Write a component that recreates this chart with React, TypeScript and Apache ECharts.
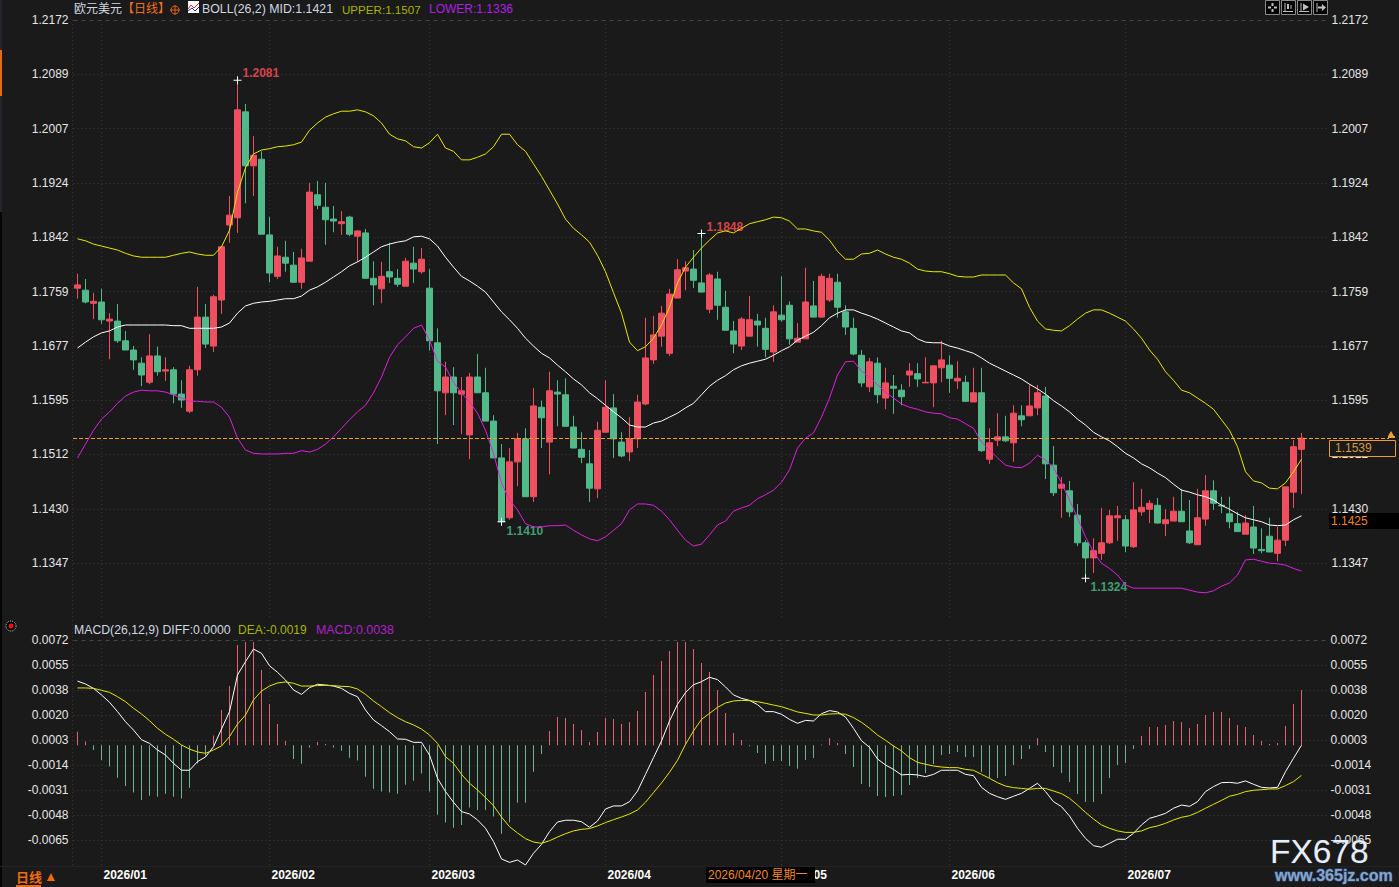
import React, { useEffect, useRef } from "react";
import * as echarts from "echarts";

const FONT = '"Liberation Sans", "Noto Sans CJK SC", sans-serif';
const BG = "#1a1a1a";
const UP = "#ef4f5f";
const DOWN = "#51b98a";

const priceLabels = ["1.2172", "1.2089", "1.2007", "1.1924", "1.1842", "1.1759", "1.1677", "1.1595", "1.1512", "1.1430", "1.1347"];
const priceTicks = [1.21726, 1.20901, 1.20075, 1.1925, 1.18424, 1.17599, 1.16774, 1.15948, 1.15123, 1.14297, 1.13472];
const macdLabels = ["0.0072", "0.0055", "0.0038", "0.0020", "0.0003", "-0.0014", "-0.0031", "-0.0048", "-0.0065"];
const macdTicks = [0.0072, 0.00549, 0.00378, 0.00207, 0.00036, -0.00135, -0.00306, -0.00477, -0.00648];
const holidays = ["2026/01/01"];
const extremes = [
  { index: 20, value: 1.2081, high: true },
  { index: 78, value: 1.1848, high: true },
  { index: 53, value: 1.141, high: false },
  { index: 126, value: 1.1324, high: false },
];

// [open, close, low, high]
const candles = [
  [1.1765,1.1770,1.1749,1.1787],[1.1762,1.1744,1.1742,1.1779],[1.1742,1.1745,1.1718,1.1758],[1.1744,1.1717,1.1711,1.1764],
  [1.1715,1.1718,1.1657,1.1727],[1.1715,1.1685,1.1682,1.1741],[1.1685,1.1671,1.1671,1.1700],[1.1671,1.1656,1.1641,1.1677],
  [1.1651,1.1633,1.1616,1.1660],[1.1622,1.1662,1.1619,1.1695],[1.1662,1.1638,1.1632,1.1676],[1.1639,1.1641,1.1624,1.1660],
  [1.1641,1.1604,1.1590,1.1645],[1.1604,1.1595,1.1583,1.1625],[1.1578,1.1641,1.1575,1.1647],[1.1641,1.1721,1.1632,1.1767],
  [1.1721,1.1680,1.1674,1.1741],[1.1677,1.1752,1.1668,1.1755],[1.1747,1.1828,1.1726,1.1829],[1.1861,1.1876,1.1834,1.1905],
  [1.1872,1.2036,1.1849,1.2081],[1.2033,1.1951,1.1894,1.2045],[1.1951,1.1967,1.1905,1.1996],[1.1961,1.1847,1.1847,1.1973],
  [1.1846,1.1788,1.1774,1.1873],[1.1783,1.1814,1.1779,1.1828],[1.1812,1.1803,1.1790,1.1837],[1.1800,1.1774,1.1773,1.1820],
  [1.1774,1.1811,1.1764,1.1825],[1.1806,1.1911,1.1806,1.1925],[1.1907,1.1891,1.1885,1.1928],[1.1888,1.1869,1.1831,1.1925],
  [1.1870,1.1867,1.1850,1.1890],[1.1863,1.1866,1.1846,1.1882],[1.1873,1.1847,1.1844,1.1875],[1.1844,1.1852,1.1805,1.1853],
  [1.1849,1.1780,1.1780,1.1855],[1.1780,1.1770,1.1739,1.1806],[1.1764,1.1783,1.1742,1.1805],[1.1790,1.1782,1.1773,1.1834],
  [1.1780,1.1771,1.1767,1.1794],[1.1768,1.1806,1.1768,1.1811],[1.1803,1.1794,1.1773,1.1828],[1.1790,1.1809,1.1787,1.1826],
  [1.1765,1.1685,1.1670,1.1794],[1.1682,1.1609,1.1528,1.1704],[1.1606,1.1630,1.1572,1.1653],[1.1630,1.1606,1.1557,1.1645],
  [1.1604,1.1609,1.1543,1.1630],[1.1542,1.1630,1.1505,1.1636],[1.1630,1.1606,1.1606,1.1665],[1.1606,1.1563,1.1563,1.1644],
  [1.1563,1.1507,1.1507,1.1572],[1.1507,1.1410,1.1410,1.1528],[1.1416,1.1501,1.1413,1.1522],[1.1501,1.1536,1.1464,1.1545],
  [1.1536,1.1448,1.1448,1.1552],[1.1448,1.1586,1.1440,1.1613],[1.1584,1.1568,1.1522,1.1594],[1.1531,1.1609,1.1482,1.1638],
  [1.1607,1.1604,1.1555,1.1625],[1.1603,1.1555,1.1555,1.1628],[1.1554,1.1522,1.1522,1.1571],[1.1520,1.1508,1.1499,1.1546],
  [1.1498,1.1461,1.1440,1.1519],[1.1460,1.1549,1.1446,1.1562],[1.1546,1.1584,1.1546,1.1625],[1.1583,1.1536,1.1507,1.1604],
  [1.1531,1.1510,1.1508,1.1546],[1.1516,1.1536,1.1502,1.1569],[1.1536,1.1592,1.1522,1.1603],[1.1589,1.1659,1.1587,1.1720],
  [1.1656,1.1694,1.1650,1.1723],[1.1692,1.1727,1.1676,1.1738],[1.1666,1.1756,1.1662,1.1764],[1.1750,1.1793,1.1750,1.1809],
  [1.1791,1.1796,1.1762,1.1806],[1.1794,1.1777,1.1765,1.1823],[1.1773,1.1759,1.1759,1.1848],[1.1733,1.1785,1.1727,1.1788],
  [1.1779,1.1739,1.1717,1.1790],[1.1736,1.1701,1.1701,1.1761],[1.1700,1.1680,1.1666,1.1715],[1.1677,1.1718,1.1671,1.1721],
  [1.1692,1.1717,1.1692,1.1753],[1.1715,1.1709,1.1676,1.1726],[1.1704,1.1672,1.1660,1.1720],[1.1668,1.1729,1.1653,1.1739],
  [1.1724,1.1717,1.1714,1.1783],[1.1739,1.1688,1.1679,1.1745],[1.1683,1.1689,1.1683,1.1712],[1.1688,1.1744,1.1688,1.1796],
  [1.1738,1.1721,1.1721,1.1776],[1.1721,1.1783,1.1720,1.1787],[1.1747,1.1780,1.1744,1.1787],[1.1774,1.1736,1.1720,1.1787],
  [1.1729,1.1706,1.1694,1.1739],[1.1704,1.1665,1.1663,1.1720],[1.1663,1.1621,1.1615,1.1671],[1.1615,1.1653,1.1607,1.1659],
  [1.1651,1.1603,1.1590,1.1660],[1.1598,1.1621,1.1581,1.1644],[1.1616,1.1613,1.1574,1.1633],[1.1610,1.1600,1.1587,1.1619],
  [1.1633,1.1639,1.1615,1.1651],[1.1635,1.1627,1.1615,1.1651],[1.1621,1.1622,1.1621,1.1660],[1.1621,1.1647,1.1584,1.1647],
  [1.1644,1.1656,1.1622,1.1685],[1.1648,1.1628,1.1606,1.1663],[1.1624,1.1628,1.1612,1.1654],[1.1622,1.1593,1.1593,1.1632],
  [1.1592,1.1606,1.1592,1.1644],[1.1606,1.1518,1.1516,1.1644],[1.1505,1.1530,1.1498,1.1552],[1.1534,1.1539,1.1525,1.1575],
  [1.1539,1.1533,1.1531,1.1571],[1.1530,1.1575,1.1501,1.1587],[1.1571,1.1565,1.1555,1.1587],[1.1571,1.1586,1.1571,1.1619],
  [1.1583,1.1606,1.1572,1.1618],[1.1601,1.1498,1.1475,1.1615],[1.1496,1.1454,1.1449,1.1525],[1.1461,1.1467,1.1416,1.1478],
  [1.1457,1.1425,1.1417,1.1472],[1.1420,1.1378,1.1373,1.1437],[1.1378,1.1355,1.1324,1.1382],[1.1355,1.1366,1.1332,1.1385],
  [1.1362,1.1378,1.1352,1.1431],[1.1378,1.1419,1.1376,1.1428],[1.1416,1.1419,1.1381,1.1434],[1.1413,1.1373,1.1364,1.1420],
  [1.1372,1.1428,1.1370,1.1470],[1.1425,1.1432,1.1419,1.1460],[1.1429,1.1438,1.1408,1.1443],[1.1435,1.1408,1.1407,1.1446],
  [1.1407,1.1413,1.1388,1.1429],[1.1411,1.1426,1.1411,1.1448],[1.1426,1.1410,1.1410,1.1460],[1.1396,1.1378,1.1376,1.1443],
  [1.1375,1.1416,1.1375,1.1460],[1.1414,1.1457,1.1404,1.1481],[1.1457,1.1438,1.1428,1.1473],[1.1435,1.1434,1.1423,1.1448],
  [1.1422,1.1410,1.1400,1.1448],[1.1407,1.1395,1.1395,1.1425],[1.1391,1.1408,1.1391,1.1420],[1.1402,1.1370,1.1361,1.1434],
  [1.1368,1.1366,1.1362,1.1400],[1.1388,1.1364,1.1364,1.1416],[1.1362,1.1382,1.1350,1.1402],[1.1382,1.1463,1.1373,1.1463],
  [1.1455,1.1524,1.1431,1.1534],[1.1520,1.1537,1.1452,1.1545],
];

const bollUpper = [
  1.1840,1.1837,1.1832,1.1829,1.1826,1.1823,1.1818,1.1814,1.1812,1.1812,1.1812,1.1812,1.1815,1.1818,1.1820,1.1817,1.1815,1.1815,1.1828,1.1853,
  1.1911,1.1948,1.1969,1.1975,1.1977,1.1980,1.1981,1.1983,1.1987,1.2005,1.2016,1.2025,1.2030,1.2034,1.2034,1.2036,1.2033,1.2027,1.2016,1.1999,
  1.1992,1.1989,1.1980,1.1978,1.1986,1.1999,1.1978,1.1973,1.1960,1.1960,1.1964,1.1969,1.1980,1.1999,1.1999,1.1983,1.1973,1.1954,1.1935,1.1914,
  1.1893,1.1870,1.1856,1.1846,1.1835,1.1815,1.1790,1.1758,1.1727,1.1683,1.1670,1.1676,1.1689,1.1709,1.1736,1.1773,1.1797,1.1812,1.1826,1.1838,
  1.1849,1.1852,1.1849,1.1856,1.1863,1.1866,1.1869,1.1873,1.1872,1.1867,1.1855,1.1855,1.1852,1.1850,1.1838,1.1821,1.1809,1.1809,1.1817,1.1818,
  1.1823,1.1817,1.1812,1.1809,1.1803,1.1794,1.1791,1.1790,1.1790,1.1787,1.1783,1.1782,1.1782,1.1785,1.1785,1.1785,1.1785,1.1773,1.1764,1.1736,
  1.1715,1.1703,1.1701,1.1700,1.1708,1.1718,1.1727,1.1732,1.1732,1.1727,1.1721,1.1715,1.1703,1.1689,1.1671,1.1657,1.1638,1.1625,1.1610,1.1606,
  1.1598,1.1590,1.1581,1.1565,1.1549,1.1524,1.1486,1.1472,1.1469,1.1461,1.1460,1.1469,1.1486,1.1505,
];

const bollMid = [
  1.1674,1.1683,1.1691,1.1697,1.1700,1.1706,1.1709,1.1709,1.1709,1.1709,1.1709,1.1709,1.1708,1.1708,1.1704,1.1704,1.1704,1.1704,1.1706,1.1712,
  1.1727,1.1738,1.1742,1.1744,1.1745,1.1747,1.1749,1.1749,1.1753,1.1762,1.1767,1.1774,1.1782,1.1790,1.1799,1.1805,1.1812,1.1820,1.1828,1.1832,
  1.1835,1.1837,1.1843,1.1844,1.1840,1.1829,1.1812,1.1797,1.1783,1.1776,1.1768,1.1759,1.1744,1.1729,1.1717,1.1704,1.1689,1.1677,1.1666,1.1659,
  1.1648,1.1638,1.1627,1.1618,1.1606,1.1597,1.1587,1.1577,1.1568,1.1557,1.1554,1.1554,1.1560,1.1563,1.1569,1.1575,1.1583,1.1590,1.1603,1.1616,
  1.1625,1.1632,1.1641,1.1647,1.1651,1.1654,1.1657,1.1663,1.1670,1.1676,1.1686,1.1692,1.1698,1.1708,1.1720,1.1727,1.1732,1.1732,1.1727,1.1723,
  1.1718,1.1712,1.1706,1.1700,1.1697,1.1688,1.1683,1.1682,1.1682,1.1677,1.1674,1.1670,1.1666,1.1659,1.1651,1.1645,1.1639,1.1633,1.1627,1.1619,
  1.1612,1.1604,1.1594,1.1586,1.1577,1.1566,1.1557,1.1546,1.1539,1.1533,1.1524,1.1514,1.1507,1.1498,1.1492,1.1484,1.1477,1.1467,1.1458,1.1455,
  1.1451,1.1448,1.1443,1.1435,1.1429,1.1422,1.1416,1.1413,1.1410,1.1405,1.1404,1.1405,1.1413,1.1419,
];

const bollLower = [
  1.1507,1.1528,1.1549,1.1566,1.1577,1.1590,1.1601,1.1607,1.1610,1.1609,1.1609,1.1607,1.1603,1.1598,1.1593,1.1593,1.1592,1.1592,1.1584,1.1569,
  1.1537,1.1519,1.1514,1.1513,1.1513,1.1513,1.1514,1.1514,1.1518,1.1516,1.1520,1.1528,1.1539,1.1552,1.1565,1.1577,1.1587,1.1606,1.1630,1.1660,
  1.1679,1.1691,1.1704,1.1709,1.1686,1.1654,1.1645,1.1622,1.1606,1.1592,1.1575,1.1549,1.1514,1.1469,1.1443,1.1428,1.1407,1.1402,1.1402,1.1404,
  1.1404,1.1405,1.1397,1.1390,1.1384,1.1381,1.1387,1.1397,1.1407,1.1428,1.1437,1.1437,1.1435,1.1426,1.1413,1.1397,1.1382,1.1373,1.1376,1.1390,
  1.1405,1.1411,1.1426,1.1431,1.1435,1.1445,1.1451,1.1458,1.1470,1.1489,1.1522,1.1537,1.1545,1.1569,1.1598,1.1633,1.1653,1.1654,1.1639,1.1630,
  1.1618,1.1607,1.1598,1.1589,1.1584,1.1581,1.1577,1.1575,1.1574,1.1568,1.1566,1.1559,1.1552,1.1531,1.1519,1.1507,1.1496,1.1493,1.1492,1.1499,
  1.1511,1.1504,1.1492,1.1469,1.1443,1.1416,1.1387,1.1364,1.1347,1.1339,1.1329,1.1314,1.1309,1.1309,1.1309,1.1309,1.1309,1.1309,1.1309,1.1306,
  1.1303,1.1302,1.1305,1.1312,1.1317,1.1329,1.1352,1.1353,1.1350,1.1347,1.1346,1.1344,1.1339,1.1335,
];

const macdHist = [
  .00093,.00025,-.00032,-.00101,-.00146,-.00222,-.00279,-.00324,-.00374,-.00345,-.00352,-.00331,-.00352,-.00365,-.0029,-.00124,-.00071,.00066,.00241,.00405,
  .00686,.00706,.00706,.00515,.00282,.00145,.00029,-.00094,-.00126,-.00016,.00022,.00009,-.00016,-.00037,-.00085,-.00105,-.00215,-.00297,-.00317,-.00324,
  -.00331,-.0027,-.00242,-.00194,-.00317,-.00475,-.00529,-.00564,-.00545,-.00425,-.00443,-.00443,-.00488,-.00605,-.00527,-.00393,-.00393,-.00181,-.0006,.00098,
  .00193,.00186,.00145,.00104,.00022,.00091,.00186,.0018,.00145,.00159,.00234,.00364,.00481,.00576,.00645,.00706,.00706,.00658,.00563,.00501,
  .00378,.00221,.00084,.00036,-.00007,-.00053,-.00126,-.00108,-.00108,-.00142,-.0016,-.00101,-.00087,.00005,.0005,.00015,-.0006,-.00149,-.00265,-.00286,
  -.00347,-.00354,-.00347,-.0034,-.00272,-.00224,-.0019,-.00128,-.00067,-.0006,-.00046,-.0008,-.0008,-.00183,-.00224,-.00224,-.0021,-.00135,-.00094,-.00026,
  .0005,-.00046,-.00149,-.0019,-.00251,-.00333,-.00388,-.00388,-.00333,-.00224,-.00135,-.00121,-.00026,.00063,.00125,.00125,.00139,.00166,.00159,.00118,
  .00145,.00207,.00228,.00228,.00186,.00139,.00125,.0007,.00029,.00008,.00015,.00132,.00282,.00378,
];

const macdDiff = [
  .00439,.00419,.00389,.00344,.00294,.0023,.00161,.00104,.00038,.00013,-.00032,-.00067,-.00124,-.00171,-.00171,-.00112,-.0008,-.0001,.00111,.0023,
  .00481,.00572,.00658,.00629,.00544,.00499,.00446,.00378,.00348,.00394,.00417,.00412,.00405,.00389,.00355,.00332,.00241,.00173,.00134,.00093,
  .00043,.00041,.0002,.0002,-.00067,-.00226,-.00317,-.0039,-.00454,-.0047,-.00511,-.00568,-.00659,-.00778,-.00801,-.00785,-.00819,-.00739,-.00678,-.00591,
  -.00525,-.00513,-.00513,-.00523,-.00561,-.00518,-.00436,-.00415,-.00415,-.00386,-.00313,-.00199,-.00085,.00029,.00166,.0028,.0036,.00414,.00435,.00465,
  .00449,.00399,.00344,.00321,.00307,.00278,.0023,.0023,.00212,.00177,.0015,.0017,.00166,.00216,.00237,.00228,.00193,.00116,.00031,-.00014,
  -.00094,-.00135,-.00165,-.00203,-.00199,-.00203,-.00215,-.00199,-.00171,-.00171,-.00171,-.00199,-.00208,-.00288,-.00329,-.00352,-.0037,-.00349,-.00329,-.00295,
  -.0026,-.00317,-.00386,-.0042,-.00484,-.00568,-.00637,-.00687,-.00698,-.00671,-.00643,-.00643,-.00602,-.00545,-.005,-.00484,-.00466,-.00431,-.00409,-.00418,
  -.00386,-.00317,-.00283,-.00256,-.00254,-.0026,-.00244,-.00267,-.00288,-.00292,-.00288,-.00181,-.00089,0,
];

const macdDea = [
  .00392,.00392,.00389,.00376,.00362,.00332,.00298,.00253,.00214,.00168,.00116,.00075,.00041,.00002,-.00026,-.00046,-.00055,-.00032,-.00005,.00059,
  .00145,.00207,.0031,.00371,.00405,.00426,.00433,.00424,.00405,.00405,.00408,.0041,.00408,.00403,.00401,.00385,.00348,.00303,.00264,.00223,
  .00189,.00161,.00139,.00111,.0007,.00013,-.00078,-.00124,-.00199,-.0026,-.00306,-.00358,-.00413,-.00491,-.00557,-.006,-.00639,-.00662,-.00671,-.00653,
  -.00628,-.00605,-.00586,-.00575,-.0057,-.00552,-.00529,-.00509,-.00491,-.0047,-.00443,-.0039,-.00324,-.00258,-.00185,-.00103,.00006,.00098,.00177,.00218,
  .00259,.00289,.00303,.00307,.00305,.00298,.00287,.00275,.00264,.00246,.00228,.00218,.00207,.00207,.00214,.00216,.00212,.00189,.00157,.00116,
  .0007,.00034,-.00005,-.00039,-.00085,-.00117,-.0013,-.00142,-.00149,-.00153,-.00153,-.00165,-.00171,-.00199,-.00226,-.00256,-.00279,-.0029,-.00295,-.00301,
  -.00295,-.00295,-.00313,-.00331,-.00363,-.00409,-.00459,-.00505,-.00545,-.00568,-.00586,-.00596,-.00596,-.00586,-.00564,-.00552,-.00534,-.00511,-.00493,-.00482,
  -.00459,-.00431,-.00404,-.00377,-.00349,-.00336,-.00317,-.00308,-.00304,-.00299,-.00299,-.00276,-.00249,-.00206,
];

function buildDates(count: number, trailing: number) {
  const out: string[] = [];
  const d = new Date(Date.UTC(2025, 11, 29));
  while (out.length < count) {
    const wd = d.getUTCDay();
    const s = `${d.getUTCFullYear()}/${String(d.getUTCMonth() + 1).padStart(2, "0")}/${String(d.getUTCDate()).padStart(2, "0")}`;
    if (wd !== 0 && wd !== 6 && !holidays.includes(s)) out.push(s);
    d.setUTCDate(d.getUTCDate() + 1);
  }
  for (let i = 0; i < trailing; i++) out.push("");
  return out;
}

const categories = buildDates(candles.length, 3);
const isMonthStart = (i: number) =>
  i > 0 && categories[i] !== "" && categories[i].slice(0, 7) !== categories[i - 1].slice(0, 7);

const GRID = { left: 73.5, width: 1256 };
const GRIDLINE = "#3a3a3a";

function txt(x: number, y: number, text: string, fill: string, font = `12px ${FONT}`, extra: any = {}) {
  return { type: "text", z: 60, style: { x, y, text, fill, font, verticalAlign: "middle", ...extra } };
}
function rect(x: number, y: number, width: number, height: number, fill: string, stroke?: string, z = 55) {
  return { type: "rect", z, shape: { x, y, width, height }, style: { fill, stroke, lineWidth: stroke ? 1 : 0 } };
}
function seg(x1: number, y1: number, x2: number, y2: number, stroke: string, lineWidth = 1, lineDash?: number[]) {
  return { type: "line", z: 60, shape: { x1, y1, x2, y2 }, style: { stroke, lineWidth, lineDash } };
}

function toolbar() {
  const c = "#bdbdbd";
  const out: any[] = [];
  [1265.5, 1281.5, 1297.5, 1313.5].forEach((x) => out.push(rect(x, 0.5, 14, 14, "#000", "#8a8a8a")));
  out.push(seg(1268, 7.5, 1271, 7.5, c, 2), seg(1274, 7.5, 1277, 7.5, c, 2), seg(1272.5, 3, 1272.5, 6, c, 2), seg(1272.5, 9, 1272.5, 12, c, 2));
  out.push(seg(1285, 3, 1285, 12, c), seg(1283, 11.5, 1293, 11.5, c), seg(1288, 4, 1288, 9, c, 2), seg(1291, 5, 1291, 9, c, 1));
  out.push(seg(1301, 3, 1301, 12, c), seg(1299, 11.5, 1309, 11.5, c), {
    type: "polygon", z: 60, shape: { points: [[1303, 3.5], [1309, 7], [1303, 10.5]] }, style: { fill: c },
  });
  out.push(seg(1317, 3, 1317, 12, c), {
    type: "polygon", z: 60, shape: { points: [[1322, 4], [1326, 7.5], [1322, 11]] }, style: { fill: c },
  }, seg(1318, 7.5, 1323, 7.5, c, 2));
  return out;
}

const nearestLabel = (v: number, ticks: number[], labels: string[]) => {
  let best = 0;
  ticks.forEach((t, i) => {
    if (Math.abs(t - v) < Math.abs(ticks[best] - v)) best = i;
  });
  return labels[best];
};

export default function App() {
  const ref = useRef<HTMLDivElement>(null);
  useEffect(() => {
    document.body.style.margin = "0";
    document.body.style.background = BG;
    const chart = echarts.init(ref.current!, undefined, { renderer: "svg" });
    const last = candles[candles.length - 1][1];
    const priceLabel = { color: "#e6e6e6", fontSize: 12, fontFamily: FONT };
    const baseX = {
      type: "category",
      data: categories,
      boundaryGap: true,
      axisLine: { show: false },
      axisTick: { show: false },
      splitLine: {
        show: true,
        interval: (i: number) => isMonthStart(i),
        alignWithLabel: true,
        lineStyle: { color: GRIDLINE, type: [1, 3], width: 1 },
      },
    };
    const makeY = (gridIndex: number, position: string, min: number, max: number, ticks: number[], labels: string[], line: number[], margin: number, dashed: boolean, align: string) => ({
      type: "value",
      gridIndex,
      position,
      min,
      max,
      scale: true,
      axisLine: { show: false },
      axisTick: { show: false, customValues: line },
      axisLabel: {
        ...priceLabel,
        customValues: ticks,
        margin,
        align,
        showMinLabel: true,
        showMaxLabel: true,
        hideOverlap: false,
        formatter: (v: number) => nearestLabel(v, ticks, labels),
      },
      splitLine: {
        show: true,
        lineStyle: { color: dashed ? "#444" : GRIDLINE, type: dashed ? [4, 4] : [1, 3], width: 1 },
      },
    });
    const priceMin = 1.12652, priceMax = 1.21726;
    const macdMin = -0.00826, macdMax = 0.0072;
    chart.setOption({
      animation: false,
      backgroundColor: BG,
      textStyle: { fontFamily: FONT },
      grid: [
        { ...GRID, top: 20, height: 597 },
        { ...GRID, top: 640, height: 226 },
      ],
      xAxis: [
        { ...baseX, gridIndex: 0, axisLabel: { show: false } },
        {
          ...baseX,
          gridIndex: 1,
          axisLabel: {
            show: true,
            color: "#ffffff",
            fontSize: 12,
            fontWeight: "bold",
            fontFamily: FONT,
            align: "left",
            margin: 3,
            padding: [0, 0, 0, 2],
            interval: (i: number) => isMonthStart(i),
            formatter: (v: string) => v.slice(0, 7),
          },
        },
      ],
      yAxis: [
        makeY(0, "left", priceMin, priceMax, priceTicks, priceLabels, priceTicks.slice(1), 5, false, "right"),
        makeY(0, "right", priceMin, priceMax, priceTicks, priceLabels, priceTicks.slice(0, 1), 2, true, "left"),
        makeY(1, "left", macdMin, macdMax, macdTicks, macdLabels, macdTicks.slice(1), 5, false, "right"),
        makeY(1, "right", macdMin, macdMax, macdTicks, macdLabels, macdTicks.slice(0, 1), 1, true, "left"),
      ],
      series: [
        {
          type: "candlestick",
          name: "欧元美元",
          xAxisIndex: 0,
          yAxisIndex: 0,
          barWidth: 6,
          data: candles,
          itemStyle: { color: UP, color0: DOWN, borderColor: UP, borderColor0: DOWN, borderWidth: 1 },
          markPoint: {
            silent: true,
            data: extremes.map((e) => ({
              coord: [categories[e.index], e.value],
              value: e.value,
              symbol: "path://M0 3.5H8V4.5H0ZM3.5 0H4.5V8H3.5Z",
              symbolSize: 8,
              itemStyle: { color: "#ffffff" },
              label: {
                show: true,
                position: "right",
                distance: 1,
                offset: e.high ? [0, -7] : [0, 9],
                color: e.high ? "#d8434f" : "#3f9f73",
                fontSize: 12,
                fontWeight: "bold",
                fontFamily: FONT,
                formatter: (p: any) => Number(p.value).toFixed(4),
              },
            })),
          },
          markLine: {
            silent: true,
            symbol: "none",
            clip: false,
            animation: false,
            label: { show: false },
            lineStyle: { color: "#f0a030", type: [4, 2], width: 1 },
            data: [[{ x: 73, yAxis: last }, { x: 1389, yAxis: last }]],
          },
        },
        { type: "line", name: "UPPER", data: bollUpper, showSymbol: false, lineStyle: { color: "#e8e800", width: 1 }, z: 5 },
        { type: "line", name: "MID", data: bollMid, showSymbol: false, lineStyle: { color: "#ffffff", width: 1 }, z: 5 },
        { type: "line", name: "LOWER", data: bollLower, showSymbol: false, lineStyle: { color: "#e020e0", width: 1 }, z: 5 },
        {
          type: "bar",
          name: "MACD",
          xAxisIndex: 1,
          yAxisIndex: 2,
          barWidth: 1,
          data: macdHist,
          itemStyle: { color: (p: any) => (p.value >= 0 ? "#e0636f" : "#6cb492") },
        },
        { type: "line", name: "DIFF", xAxisIndex: 1, yAxisIndex: 2, data: macdDiff, showSymbol: false, lineStyle: { color: "#ffffff", width: 1 }, z: 5 },
        { type: "line", name: "DEA", xAxisIndex: 1, yAxisIndex: 2, data: macdDea, showSymbol: false, lineStyle: { color: "#e8e800", width: 1 }, z: 5 },
      ],
      graphic: {
        elements: [
          rect(0, 0, 2, 212, "#26262a", undefined, 1),
          rect(0, 212, 2, 675, "#050505", undefined, 1),
          rect(0, 50, 2, 46, "#e36b10", undefined, 2),
          seg(72.5, 20, 72.5, 866, "#333", 1, [1, 3]),
          seg(0, 866.5, 1399, 866.5, "#232323", 1),

          txt(74, 9, "欧元美元", "#cfd8e0"),
          txt(122, 9, "【日线】", "#f07020"),
          { type: "circle", z: 60, shape: { cx: 175, cy: 10, r: 4 }, style: { fill: "none", stroke: "#e0601a", lineWidth: 1 } },
          seg(170, 10, 180, 10, "#e0601a"),
          seg(175, 5, 175, 15, "#e0601a"),
          rect(188, 1, 11, 12, "#ffffff"),
          { type: "polyline", z: 61, shape: { points: [[188, 9], [191, 5], [194, 8], [199, 3]] }, style: { stroke: "#e02020", lineWidth: 1, fill: "none" } },
          { type: "polyline", z: 61, shape: { points: [[188, 11], [192, 8], [195, 11], [199, 7]] }, style: { stroke: "#2030c0", lineWidth: 1, fill: "none" } },
          txt(202, 9, "BOLL(26,2) MID:1.1421", "#cfd8e0", `12.35px ${FONT}`),
          txt(342, 9, "UPPER:1.1507", "#a8b400", `11.6px ${FONT}`),
          txt(429, 9, "LOWER:1.1336", "#b020e0"),

          { type: "circle", z: 60, shape: { cx: 11, cy: 626, r: 5 }, style: { fill: "#000", stroke: "#ddd", lineWidth: 1, lineDash: [1, 1] } },
          { type: "circle", z: 61, shape: { cx: 11, cy: 626, r: 2.5 }, style: { fill: "#ee1111" } },
          txt(74, 630, "MACD(26,12,9) DIFF:0.0000", "#cfd8e0", `12.25px ${FONT}`),
          txt(238, 630, "DEA:-0.0019", "#a8b400"),
          txt(316, 630, "MACD:0.0038", "#b020c8", `12.4px ${FONT}`),

          txt(16, 877, "日线", "#f06a10", `bold 13px ${FONT}`),
          { type: "polygon", z: 60, shape: { points: [[47, 881], [51, 873], [55, 881]] }, style: { fill: "#f06a10" } },
          rect(16, 885, 25, 2, "#f06a10"),

          rect(706, 867, 109, 16, "#000000"),
          txt(708, 875, "2026/04/20 星期一", "#f08a20"),

          rect(1329.5, 440.5, 66, 16, BG, "#e89a40"),
          txt(1335, 448, "1.1539", "#d29a3a"),
          rect(1329, 513, 70, 16, "#000000"),
          txt(1331, 521, "1.1425", "#f08020"),
          { type: "polygon", z: 60, shape: { points: [[1388, 436], [1391, 431], [1394, 436]] }, style: { fill: "#f0a030" } },
          rect(1388, 436, 7, 2, "#f0a030"),

          ...toolbar(),

          txt(1270, 851, "FX678", "#e8eef6", `33.5px ${FONT}`, { stroke: "#2b4a78", lineWidth: 0.4 }),
          txt(1275, 875, "www.365jz.com", "#8aa4c8", `bold 16px ${FONT}`, { stroke: "#2a5590", lineWidth: 1 }),
        ],
      },
    });
    return () => chart.dispose();
  }, []);
  return <div ref={ref} style={{ position: "fixed", left: 0, top: 0, width: 1399, height: 887 }} />;
}
